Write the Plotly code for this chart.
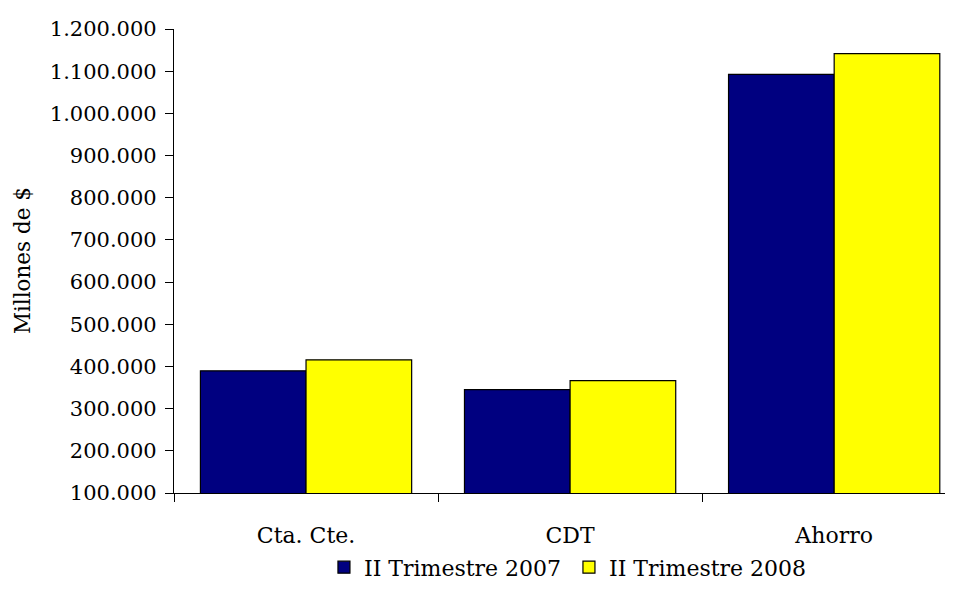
import plotly.graph_objects as go

categories = ["Cta. Cte.", "CDT", "Ahorro"]
series_names = ["II Trimestre 2007", "II Trimestre 2008"]
values_2007 = [389600, 345300, 1092500]
values_2008 = [415600, 366600, 1141600]
y_ticks = [100000 * i for i in range(1, 13)]
y_title = "Millones de $"

FONT = "DejaVu Serif"
fig = go.Figure()
fig.add_trace(go.Bar(x=categories, y=values_2007, name=series_names[0],
                     marker=dict(color="#000080", line=dict(color="black", width=1.2))))
fig.add_trace(go.Bar(x=categories, y=values_2008, name=series_names[1],
                     marker=dict(color="#FFFF00", line=dict(color="black", width=1.2))))

fig.update_layout(
    width=945, height=587,
    margin=dict(l=166, r=0, t=21, b=102),
    paper_bgcolor="white", plot_bgcolor="white",
    barmode="group", bargap=0.2, bargroupgap=0,
    separators=",.",
    font=dict(family=FONT, size=21, color="black"),
    showlegend=True,
    legend=dict(orientation="h", x=0.507, xanchor="center", y=-0.115, yanchor="top",
                font=dict(family=FONT, size=22), itemwidth=30, tracegroupgap=0,
                entrywidth=200, entrywidthmode="pixels"),
    xaxis=dict(range=[-0.5, 2.45], tickson="boundaries", ticks="outside", ticklen=8,
               tickcolor="black", showline=True, linecolor="black", linewidth=1.2,
               showgrid=False, tickfont=dict(family=FONT, size=22), ticklabelstandoff=22),
    yaxis=dict(range=[100000, 1200000], tickvals=y_ticks, tickformat=",d",
               ticks="outside", ticklen=8, tickcolor="black", showline=True,
               linecolor="black", linewidth=1.2, showgrid=False, zeroline=False,
               tickfont=dict(family=FONT, size=21), ticklabelstandoff=4),
    annotations=[dict(text=y_title, xref="paper", yref="paper", x=-0.195, y=0.5,
                      xanchor="center", yanchor="middle", textangle=-90, showarrow=False,
                      font=dict(family=FONT, size=21.5))],
)
fig.write_html("out.html")
